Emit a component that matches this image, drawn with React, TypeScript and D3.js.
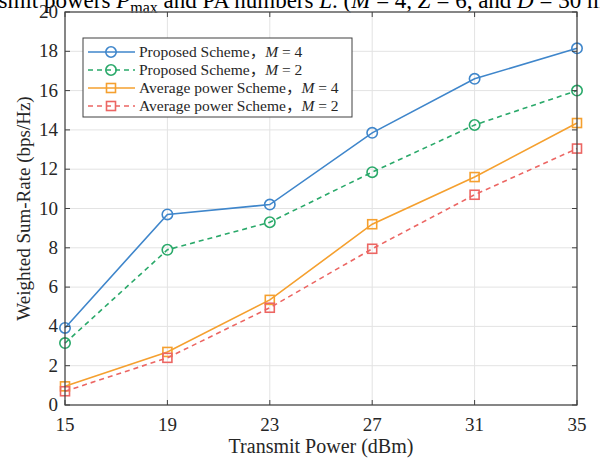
import React from "react";
import * as d3 from "d3";

const powers = [15, 19, 23, 27, 31, 35];
const proposedM4 = [3.92, 9.7, 10.2, 13.85, 16.6, 18.15];
const proposedM2 = [3.15, 7.9, 9.3, 11.85, 14.25, 16.0];
const averageM4 = [0.95, 2.7, 5.35, 9.2, 11.6, 14.35];
const averageM2 = [0.7, 2.4, 4.95, 7.95, 10.7, 13.05];
const xTicks = [15, 19, 23, 27, 31, 35];
const yTicks = [0, 2, 4, 6, 8, 10, 12, 14, 16, 18, 20];
const seriesNames = ["Proposed Scheme", "Proposed Scheme", "Average power Scheme", "Average power Scheme"];
const seriesM = ["4", "2", "4", "2"];

const W = 600, H = 461;
const L = 65, R = 577, T = 12, B = 405;
const FONT = "'Times New Roman', 'Liberation Serif', serif";

const series = [
  { values: proposedM4, color: "#3f86cb", dash: "", marker: "circle" },
  { values: proposedM2, color: "#2aa96a", dash: "5,4", marker: "circle" },
  { values: averageM4, color: "#f5a02f", dash: "", marker: "square" },
  { values: averageM2, color: "#ec6663", dash: "5,4", marker: "square" },
];

function Marker({ type, x, y, color }: { type: string; x: number; y: number; color: string }) {
  if (type === "circle") return <circle cx={x} cy={y} r={5.2} fill="none" stroke={color} strokeWidth={1.6} />;
  return <rect x={x - 4.5} y={y - 4.5} width={9} height={9} fill="none" stroke={color} strokeWidth={1.6} />;
}

export default function App() {
  const x = d3.scaleLinear().domain([15, 35]).range([L, R]);
  const y = d3.scaleLinear().domain([0, 20]).range([B, T]);
  const line = d3.line<number>().x((_, i) => x(powers[i])).y((d) => y(d));
  const axisColor = "#404040";
  const tl = 5;
  return (
    <svg width={W} height={H} style={{ position: "absolute", left: 0, top: 0, background: "#fff" }} fontFamily={FONT}>
      <text x={-44} y={8} fontSize={23} fill="#000">
        Transmit powers <tspan fontStyle="italic">P</tspan>
        <tspan fontSize={16} dy={5}>max</tspan>
        <tspan dy={-5}> and PA numbers </tspan>
        <tspan fontStyle="italic">L</tspan>. (<tspan fontStyle="italic">M</tspan> = 4, <tspan fontStyle="italic">Z</tspan> = 6, and <tspan fontStyle="italic">D</tspan> = 30 m)
      </text>
      {xTicks.map((t) => (
        <line key={"gx" + t} x1={x(t)} x2={x(t)} y1={T} y2={B} stroke="#e3e3e3" strokeWidth={1} />
      ))}
      {yTicks.map((t) => (
        <line key={"gy" + t} x1={L} x2={R} y1={y(t)} y2={y(t)} stroke="#e3e3e3" strokeWidth={1} />
      ))}
      {series.map((s, k) => (
        <g key={"s" + k}>
          <path d={line(s.values) || ""} fill="none" stroke={s.color} strokeWidth={1.6} strokeDasharray={s.dash} />
          {s.values.map((v, i) => (
            <Marker key={i} type={s.marker} x={x(powers[i])} y={y(v)} color={s.color} />
          ))}
        </g>
      ))}
      <rect x={L} y={T} width={R - L} height={B - T} fill="none" stroke={axisColor} strokeWidth={1.2} />
      {xTicks.map((t) => (
        <g key={"tx" + t}>
          <line x1={x(t)} x2={x(t)} y1={B} y2={B - tl} stroke={axisColor} />
          <line x1={x(t)} x2={x(t)} y1={T} y2={T + tl} stroke={axisColor} />
          <text x={x(t)} y={B + 26} fontSize={19} textAnchor="middle" fill="#262626">{t}</text>
        </g>
      ))}
      {yTicks.map((t) => (
        <g key={"ty" + t}>
          <line x1={L} x2={L + tl} y1={y(t)} y2={y(t)} stroke={axisColor} />
          <line x1={R} x2={R - tl} y1={y(t)} y2={y(t)} stroke={axisColor} />
          <text x={L - 7} y={y(t) + 6} fontSize={19} textAnchor="end" fill="#262626">{t}</text>
        </g>
      ))}
      <text x={(L + R) / 2} y={453} fontSize={20} textAnchor="middle" fill="#262626">Transmit Power (dBm)</text>
      <text transform={`translate(30, ${(T + B) / 2}) rotate(-90)`} fontSize={19} textAnchor="middle" fill="#262626">
        Weighted Sum-Rate (bps/Hz)
      </text>
      <g>
        <rect x={83} y={38} width={269} height={79} fill="#fff" stroke={axisColor} strokeWidth={1} />
        {series.map((s, k) => {
          const ly = 52 + k * 18;
          return (
            <g key={"lg" + k}>
              <line x1={88} x2={135} y1={ly} y2={ly} stroke={s.color} strokeWidth={1.6} strokeDasharray={s.dash} />
              <Marker type={s.marker} x={111} y={ly} color={s.color} />
              <text x={139} y={ly + 5} fontSize={15.5} fill="#262626">
                {seriesNames[k]}
                <tspan fontFamily="'Noto Sans CJK SC'">，</tspan>
                <tspan fontStyle="italic">M</tspan> = {seriesM[k]}
              </text>
            </g>
          );
        })}
      </g>
    </svg>
  );
}
